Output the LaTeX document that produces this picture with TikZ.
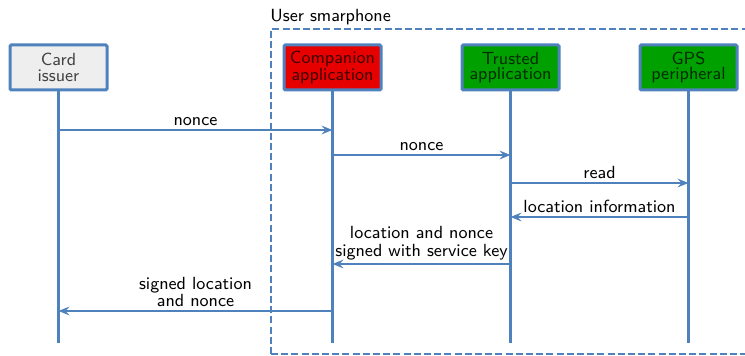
\documentclass[tikz,border=0pt]{standalone}
\usetikzlibrary{arrows.meta}
\definecolor{lineblue}{HTML}{4F81BD}
\definecolor{boxgrey}{HTML}{EEEEEE}
\definecolor{boxred}{HTML}{E60000}
\definecolor{boxgreen}{HTML}{00A000}
\tikzset{
  actor/.style={draw=lineblue, line width=1.5pt, rounded corners=0.6pt,
    minimum width=48.5pt, minimum height=22.5pt, inner sep=0pt,
    align=center, text=black, text opacity=0.72,
    font=\sffamily\fontsize{8.8}{7.6}\selectfont},
  lifeline/.style={draw=lineblue, line width=1.3pt},
  msg/.style={draw=lineblue, line width=1.3pt,
    -{Stealth[length=5.5pt,width=4.4pt,inset=2pt]}},
  msglabel/.style={midway, above, inner sep=1.5pt, align=center,
    font=\sffamily\fontsize{8.8}{8.6}\selectfont},
  device/.style={draw=lineblue, line width=1.3pt, dash pattern=on 3.5pt off 1.6pt}
}
\begin{document}
\begin{tikzpicture}[x=0.5pt, y=-0.5pt]
  \useasboundingbox (0,0) rectangle (745,356);

  % phone boundary
  \draw[device] (271,354) -- (271,29) -- (748,29);
  \draw[device] (271,354) -- (748,354);
  \node[anchor=base west, inner sep=0pt,
        font=\sffamily\fontsize{8.8}{10}\selectfont] (phone) at (270,22) {User smarphone};

  % participants
  \node[actor, fill=boxgrey]  (ci) at (58.5,67.5)  {Card\\issuer};
  \node[actor, fill=boxred]   (ca) at (332.5,67.5) {Companion\\application};
  \node[actor, fill=boxgreen] (ta) at (510.5,67.5) {Trusted\\application};
  \node[actor, fill=boxgreen] (gp) at (688.5,67.5) {GPS\\peripheral};

  % lifeline ends
  \coordinate (bottom) at (0,343);
  \foreach \p in {ci,ca,ta,gp}
    \draw[lifeline] (\p.south) -- (\p.south |- bottom);

  % message rows
  \coordinate (m1) at (0,130);
  \coordinate (m2) at (0,155);
  \coordinate (m3) at (0,183);
  \coordinate (m4) at (0,217);
  \coordinate (m5) at (0,264);
  \coordinate (m6) at (0,311);

  \draw[msg] (ci.south |- m1) -- (ca.south |- m1) node[msglabel] {nonce};
  \draw[msg] (ca.south |- m2) -- (ta.south |- m2) node[msglabel] {nonce};
  \draw[msg] (ta.south |- m3) -- (gp.south |- m3) node[msglabel] {read};
  \draw[msg] (gp.south |- m4) -- (ta.south |- m4) node[msglabel] {location information};
  \draw[msg] (ta.south |- m5) -- (ca.south |- m5) node[msglabel] {location and nonce\\signed with service key};
  \draw[msg] (ca.south |- m6) -- (ci.south |- m6) node[msglabel] {signed location\\and nonce};
\end{tikzpicture}
\end{document}
